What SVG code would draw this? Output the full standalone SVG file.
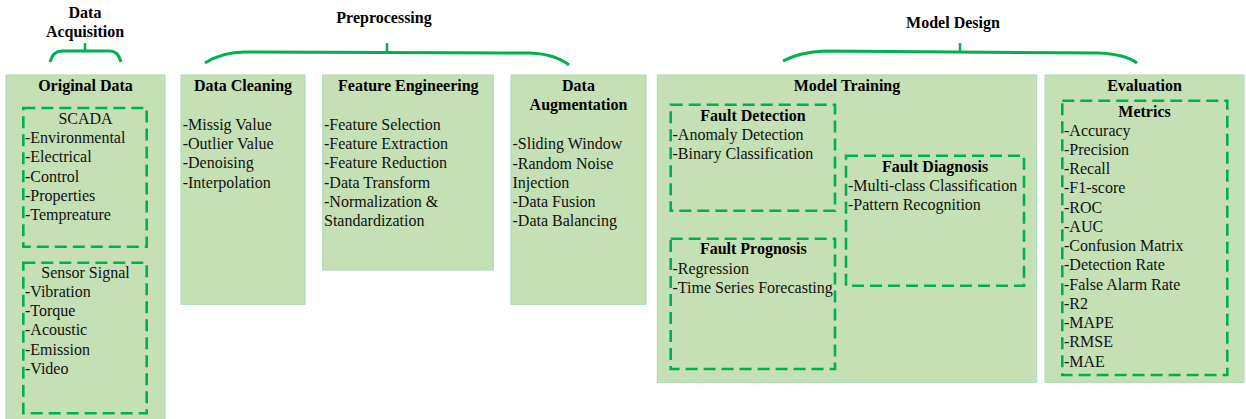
<svg xmlns="http://www.w3.org/2000/svg" width="1246" height="419" viewBox="0 0 1246 419">
  <style>
    .box { fill: #c5e0b4; stroke: #a3dcb6; stroke-width: 1; }
    .dash { fill: none; stroke: #00b050; stroke-width: 2.6; stroke-dasharray: 12 6; }
    .brace { fill: none; stroke: #00b050; stroke-width: 3; stroke-linecap: butt; }
    .tick { fill: none; stroke: #00b050; stroke-width: 2.5; }
    text { font-family: "Liberation Serif", "Times New Roman", serif; font-size: 16px; fill: #111; }
    .b { font-weight: bold; fill: #000; }
    .c { text-anchor: middle; }
  </style>

  <rect width="1246" height="419" fill="#ffffff"/>

  <!-- stage headings -->
  <g id="headings">
    <text class="b c" x="85" y="17.5">Data</text>
    <text class="b c" x="85" y="36.5">Acquisition</text>
    <text class="b c" x="384" y="22.5">Preprocessing</text>
    <text class="b c" x="953" y="27.5">Model Design</text>
  </g>

  <!-- braces grouping the blocks under each stage -->
  <g id="connectors">
    <path class="brace" d="M50,62 Q53,51 62,51 L110,51 Q118,51 121,62"/>
    <path class="tick" d="M85,43 V51"/>
    <path class="brace" d="M205,63 Q222,52 245,52 L530,53 Q555,54 569,65"/>
    <path class="tick" d="M387,43 V52"/>
    <path class="brace" d="M783,61 Q800,52 825,51 L1098,53 Q1125,54 1137,63"/>
    <path class="tick" d="M960,43 V52"/>
  </g>

  <!-- Original Data -->
  <g id="original-data">
    <rect class="box" x="6" y="75" width="159" height="360"/>
    <text class="b c" x="85.5" y="91">Original Data</text>
    <g id="scada">
      <rect class="dash" x="23.3" y="108" width="123.4" height="138.7"/>
      <text class="c" x="85.5" y="124">SCADA</text>
      <text x="25" y="143.2">-Environmental</text>
      <text x="25" y="162.4">-Electrical</text>
      <text x="25" y="181.6">-Control</text>
      <text x="25" y="200.8">-Properties</text>
      <text x="25" y="220">-Tempreature</text>
    </g>
    <g id="sensor-signal">
      <rect class="dash" x="23.3" y="262.7" width="123.4" height="150.6"/>
      <text class="c" x="85.5" y="277.7">Sensor Signal</text>
      <text x="25" y="297">-Vibration</text>
      <text x="25" y="316.2">-Torque</text>
      <text x="25" y="335.4">-Acoustic</text>
      <text x="25" y="354.6">-Emission</text>
      <text x="25" y="373.8">-Video</text>
    </g>
  </g>

  <!-- Data Cleaning -->
  <g id="data-cleaning">
    <rect class="box" x="181" y="75" width="124" height="229.3"/>
    <text class="b c" x="243" y="91">Data Cleaning</text>
    <text x="182.7" y="130">-Missig Value</text>
    <text x="182.7" y="149.2">-Outlier Value</text>
    <text x="182.7" y="168.4">-Denoising</text>
    <text x="182.7" y="187.6">-Interpolation</text>
  </g>

  <!-- Feature Engineering -->
  <g id="feature-engineering">
    <rect class="box" x="322.7" y="75" width="170.6" height="195"/>
    <text class="b c" x="408.3" y="91">Feature Engineering</text>
    <text x="324" y="130">-Feature Selection</text>
    <text x="324" y="149.2">-Feature Extraction</text>
    <text x="324" y="168.4">-Feature Reduction</text>
    <text x="324" y="187.6">-Data Transform</text>
    <text x="324" y="206.8">-Normalization &amp;</text>
    <text x="324" y="226">Standardization</text>
  </g>

  <!-- Data Augmentation -->
  <g id="data-augmentation">
    <rect class="box" x="511" y="75" width="135" height="229.3"/>
    <text class="b c" x="578.5" y="91">Data</text>
    <text class="b c" x="578.5" y="110">Augmentation</text>
    <text x="512.5" y="149.3">-Sliding Window</text>
    <text x="512.5" y="168.5">-Random Noise</text>
    <text x="512.5" y="187.7">Injection</text>
    <text x="512.5" y="206.9">-Data Fusion</text>
    <text x="512.5" y="226.1">-Data Balancing</text>
  </g>

  <!-- Model Training -->
  <g id="model-training">
    <rect class="box" x="657.3" y="75" width="379.4" height="307.3"/>
    <text class="b c" x="847" y="91">Model Training</text>
    <g id="fault-detection">
      <rect class="dash" x="670.7" y="104.7" width="164.3" height="106"/>
      <text class="b c" x="753" y="121">Fault Detection</text>
      <text x="672.5" y="140">-Anomaly Detection</text>
      <text x="672.5" y="159.2">-Binary Classification</text>
    </g>
    <g id="fault-diagnosis">
      <rect class="dash" x="846" y="155.7" width="178" height="130"/>
      <text class="b c" x="935" y="171.5">Fault Diagnosis</text>
      <text x="848" y="190.7">-Multi-class Classification</text>
      <text x="848" y="209.9">-Pattern Recognition</text>
    </g>
    <g id="fault-prognosis">
      <rect class="dash" x="670.7" y="238.7" width="164.3" height="130.3"/>
      <text class="b c" x="753.3" y="254.3">Fault Prognosis</text>
      <text x="672.5" y="273.5">-Regression</text>
      <text x="672.5" y="292.7">-Time Series Forecasting</text>
    </g>
  </g>

  <!-- Evaluation -->
  <g id="evaluation">
    <rect class="box" x="1045" y="75" width="199" height="307.3"/>
    <text class="b c" x="1144.5" y="91">Evaluation</text>
    <g id="metrics">
      <rect class="dash" x="1062.3" y="100.7" width="165" height="274.3"/>
      <text class="b c" x="1144.5" y="116.5">Metrics</text>
      <text x="1064" y="135.7">-Accuracy</text>
      <text x="1064" y="154.95">-Precision</text>
      <text x="1064" y="174.2">-Recall</text>
      <text x="1064" y="193.45">-F1-score</text>
      <text x="1064" y="212.7">-ROC</text>
      <text x="1064" y="231.95">-AUC</text>
      <text x="1064" y="251.2">-Confusion Matrix</text>
      <text x="1064" y="270.45">-Detection Rate</text>
      <text x="1064" y="289.7">-False Alarm Rate</text>
      <text x="1064" y="308.95">-R2</text>
      <text x="1064" y="328.2">-MAPE</text>
      <text x="1064" y="347.45">-RMSE</text>
      <text x="1064" y="366.7">-MAE</text>
    </g>
  </g>
</svg>
